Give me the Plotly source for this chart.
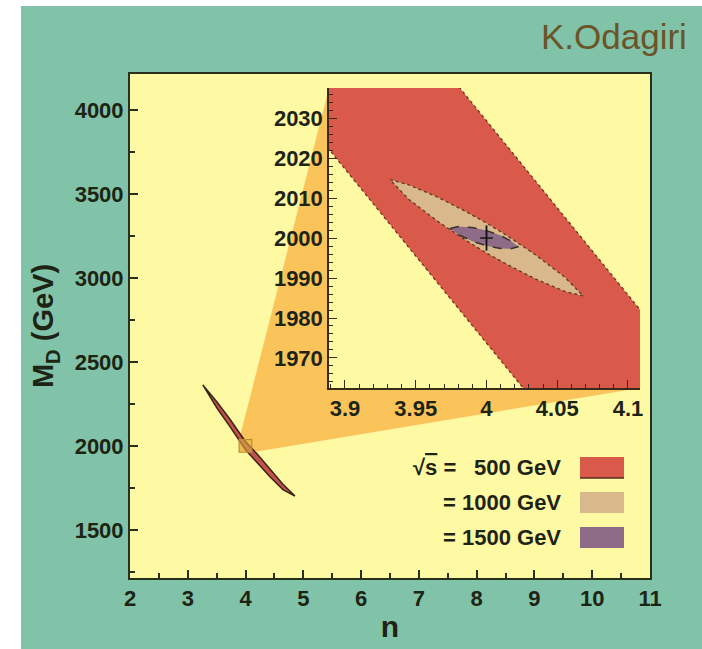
import plotly.graph_objects as go

# ---------------- data ----------------
# main panel: 500 GeV contour (centre line and half width in GeV)
band_n = [3.26, 3.505, 3.73, 4.0, 4.197, 4.422, 4.647, 4.855]
band_m = [2363, 2244, 2137, 2001, 1929, 1839, 1756, 1702]
band_hw = [0, 18, 22, 24, 24, 22, 16, 0]

# inset: 500 GeV band edges (straight in the zoom window)
inset_lo_n = [3.85, 4.15]
inset_lo_m = [2039.0, 1908.5]
inset_hi_n = [3.85, 4.15]
inset_hi_m = [2094.6, 1964.0]

# inset: 1000 GeV contour
tan_n = [3.9318, 3.945, 3.965, 3.985, 4.0, 4.015, 4.035, 4.055, 4.0684]
tan_c = [2014.6, 2011.5, 2007.3, 2003.1, 2000.0, 1996.9, 1992.7, 1988.5, 1985.5]
tan_hw = [0, 1.8, 3.0, 3.6, 3.75, 3.6, 3.0, 1.8, 0]

# inset: 1500 GeV contour
pur_n = [3.9742, 3.980, 3.99, 4.0, 4.01, 4.017, 4.0225]
pur_c = [2002.4, 2001.85, 2000.9, 1999.95, 1999.0, 1998.3, 1997.8]
pur_hw = [0, 1.0, 1.7, 1.9, 1.6, 1.0, 0]

best_n = [4.0]
best_m = [2000.0]

legend_labels = ["500 GeV", "= 1000 GeV", "= 1500 GeV"]

X_RANGE = [2, 11]
Y_RANGE = [1214, 4214]
INSET_X = [3.8887, 4.1085]
INSET_Y = [1962.5, 2037.5]

# ---------------- styling ----------------
W, H = 702, 649
ML, MR, MT, MB = 130, 52, 74, 71
TEAL = "#80c3a9"
PALE = "#fefaa3"
ORANGE = "#fbc45b"
RED = "#d95a4b"
TAN = "#d9b98b"
PURPLE = "#8e6c87"
DARK = "#26301c"
TXT = "#1e2414"
FONT = "Liberation Sans, Arial, sans-serif"

INSET_DOM_X = [0.3827, 0.9808]
INSET_DOM_Y = [0.377, 0.9722]

pw, ph = W - ML - MR, H - MT - MB


def px_to_paper_x(p):
    return (p - ML) / pw


def px_to_paper_y(p):
    return (H - MB - p) / ph


fig = go.Figure()

# main 500 GeV contour
up = [m + h for m, h in zip(band_m, band_hw)]
lo = [m - h for m, h in zip(band_m, band_hw)]
fig.add_trace(go.Scatter(
    x=band_n + band_n[::-1], y=up + lo[::-1], mode="lines", fill="toself",
    fillcolor="#c4524a", line=dict(color="#3a2418", width=1.5),
    xaxis="x", yaxis="y", showlegend=False, hoverinfo="skip"))

# inset 500 GeV band
fig.add_trace(go.Scatter(
    x=inset_lo_n + inset_hi_n[::-1], y=inset_lo_m + inset_hi_m[::-1],
    mode="lines", fill="toself", fillcolor=RED,
    line=dict(color="#7a2c20", width=1.3, dash="dot"),
    xaxis="x2", yaxis="y2", showlegend=False, hoverinfo="skip"))

# inset 1000 GeV
tu = [c + h for c, h in zip(tan_c, tan_hw)]
tl = [c - h for c, h in zip(tan_c, tan_hw)]
fig.add_trace(go.Scatter(
    x=tan_n + tan_n[::-1], y=tu + tl[::-1], mode="lines", fill="toself",
    fillcolor=TAN, line=dict(color="#5a3a28", width=1.3, dash="dot"),
    xaxis="x2", yaxis="y2", showlegend=False, hoverinfo="skip"))

# inset 1500 GeV
pu = [c + h for c, h in zip(pur_c, pur_hw)]
pl = [c - h for c, h in zip(pur_c, pur_hw)]
fig.add_trace(go.Scatter(
    x=pur_n + pur_n[::-1], y=pu + pl[::-1], mode="lines", fill="toself",
    fillcolor=PURPLE, line=dict(color="#3a3030", width=1.5, dash="dash"),
    xaxis="x2", yaxis="y2", showlegend=False, hoverinfo="skip"))

# best fit point (long vertical stroke, short horizontal stroke)
fig.add_trace(go.Scatter(
    x=best_n, y=best_m, mode="markers",
    marker=dict(symbol="line-ns", size=18, line=dict(color="#111111", width=1.8)),
    xaxis="x2", yaxis="y2", showlegend=False, hoverinfo="skip"))
fig.add_trace(go.Scatter(
    x=best_n, y=best_m, mode="markers",
    marker=dict(symbol="line-ew", size=9, line=dict(color="#111111", width=1.4)),
    xaxis="x2", yaxis="y2", showlegend=False, hoverinfo="skip"))

# ---------------- shapes ----------------
shapes = []
# white strips outside the teal frame
shapes.append(dict(type="rect", xref="paper", yref="paper",
                   x0=px_to_paper_x(-5), x1=px_to_paper_x(21),
                   y0=px_to_paper_y(H + 5), y1=px_to_paper_y(-5),
                   fillcolor="white", line=dict(width=0), layer="below"))
shapes.append(dict(type="rect", xref="paper", yref="paper",
                   x0=px_to_paper_x(-5), x1=px_to_paper_x(W + 5),
                   y0=px_to_paper_y(6), y1=px_to_paper_y(-5),
                   fillcolor="white", line=dict(width=0), layer="below"))

# orange zoom funnel: hull of the zoom square and the inset frame
sx0 = (INSET_X[0] - X_RANGE[0]) / (X_RANGE[1] - X_RANGE[0])
sx1 = (INSET_X[1] - X_RANGE[0]) / (X_RANGE[1] - X_RANGE[0])
sy0 = (INSET_Y[0] - Y_RANGE[0]) / (Y_RANGE[1] - Y_RANGE[0])
sy1 = (INSET_Y[1] - Y_RANGE[0]) / (Y_RANGE[1] - Y_RANGE[0])
ix0, ix1 = INSET_DOM_X
iy0, iy1 = INSET_DOM_Y
path = (f"M {sx0},{sy1} L {ix0},{iy1} L {ix1},{iy1} L {ix1},{iy0} "
        f"L {sx1},{sy0} L {sx0},{sy0} Z")
shapes.append(dict(type="path", xref="paper", yref="paper", path=path,
                   fillcolor=ORANGE, line=dict(width=0), layer="below"))

# zoom square on main axes
shapes.append(dict(type="rect", xref="x", yref="y",
                   x0=INSET_X[0], x1=INSET_X[1], y0=INSET_Y[0], y1=INSET_Y[1],
                   fillcolor="rgba(230,180,70,0.55)",
                   line=dict(color="#b89030", width=1.2), layer="above"))

# legend swatches
leg_colors = [RED, TAN, PURPLE]
leg_rows_px = [467, 502, 537]
for c, yc in zip(leg_colors, leg_rows_px):
    shapes.append(dict(type="rect", xref="paper", yref="paper",
                       x0=px_to_paper_x(580), x1=px_to_paper_x(624),
                       y0=px_to_paper_y(yc + 11), y1=px_to_paper_y(yc - 10),
                       fillcolor=c, line=dict(width=0), layer="above"))
shapes.append(dict(type="line", xref="paper", yref="paper",
                   x0=px_to_paper_x(580), x1=px_to_paper_x(624),
                   y0=px_to_paper_y(leg_rows_px[0] + 11), y1=px_to_paper_y(leg_rows_px[0] + 11),
                   line=dict(color="#5a2a20", width=1.5), layer="above"))

annotations = []
annotations.append(dict(text="K.Odagiri", xref="paper", yref="paper",
                        x=px_to_paper_x(689), y=px_to_paper_y(36),
                        xanchor="right", yanchor="middle", showarrow=False,
                        font=dict(family=FONT, size=35, color="#6b5528")))
lfont = dict(family=FONT, size=22, color=TXT, weight="bold")
annotations.append(dict(text="√<span style='text-decoration:overline'>s</span> =",
                        xref="paper", yref="paper",
                        x=px_to_paper_x(458), y=px_to_paper_y(leg_rows_px[0]),
                        xanchor="right", yanchor="middle", showarrow=False, font=lfont))
for lab, yc in zip(legend_labels, leg_rows_px):
    annotations.append(dict(text=lab, xref="paper", yref="paper",
                            x=px_to_paper_x(563), y=px_to_paper_y(yc),
                            xanchor="right", yanchor="middle", showarrow=False,
                            font=lfont))

tickfont = dict(family=FONT, size=22, color=TXT, weight="bold")

fig.update_layout(
    width=W, height=H, autosize=False,
    margin=dict(l=ML, r=MR, t=MT, b=MB),
    paper_bgcolor=TEAL, plot_bgcolor=PALE,
    showlegend=False,
    shapes=shapes, annotations=annotations,
    xaxis=dict(domain=[0, 1], range=X_RANGE, tick0=2, dtick=1,
               ticks="inside", ticklen=8, tickwidth=1.5, tickcolor=DARK,
               minor=dict(ticks="inside", dtick=0.5, ticklen=5, tickcolor=DARK),
               showline=True, mirror=True, linecolor=DARK, linewidth=2,
               showgrid=False, zeroline=False, tickfont=tickfont,
               title=dict(text="<b>n</b>", standoff=6,
                          font=dict(family=FONT, size=30, color=TXT))),
    yaxis=dict(domain=[0, 1], range=Y_RANGE, tick0=1500, dtick=500,
               ticks="inside", ticklen=8, tickwidth=1.5, tickcolor=DARK,
               minor=dict(ticks="inside", dtick=250, ticklen=5, tickcolor=DARK),
               showline=True, mirror=True, linecolor=DARK, linewidth=2,
               showgrid=False, zeroline=False, tickfont=tickfont,
               title=dict(text="<b>M<sub>D</sub> (GeV)</b>", standoff=12,
                          font=dict(family=FONT, size=29, color=TXT))),
    xaxis2=dict(domain=INSET_DOM_X, anchor="y2", range=INSET_X, tick0=3.9, dtick=0.05,
                ticks="inside", ticklen=8, tickwidth=1.3, tickcolor="#3a2a1a",
                minor=dict(ticks="inside", dtick=0.01, ticklen=4, tickcolor="#3a2a1a"),
                showline=True, linecolor="#3a2a1a", linewidth=1.5,
                showgrid=False, zeroline=False, tickfont=tickfont),
    yaxis2=dict(domain=INSET_DOM_Y, anchor="x2", range=INSET_Y, tick0=1970, dtick=10,
                ticks="inside", ticklen=8, tickwidth=1.3, tickcolor="#3a2a1a",
                minor=dict(ticks="inside", dtick=2, ticklen=4, tickcolor="#3a2a1a"),
                showline=True, linecolor="#3a2a1a", linewidth=1.5,
                showgrid=False, zeroline=False, tickfont=tickfont),
)

fig.write_html("out.html", config={"displayModeBar": False},
               post_script="document.body.style.margin='0';document.body.style.padding='0';")
